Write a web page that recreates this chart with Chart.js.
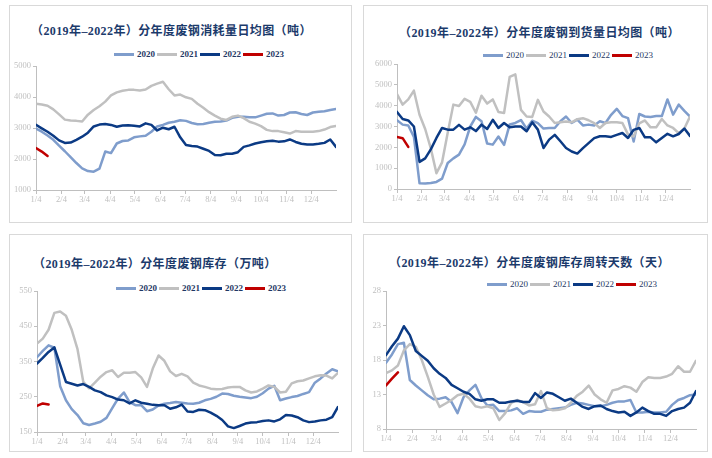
<!DOCTYPE html>
<html lang="zh-CN">
<head>
<meta charset="utf-8">
<title>废钢分年度图</title>
<script src="https://cdn.jsdelivr.net/npm/chart.js@4.4.1/dist/chart.umd.min.js"></script>
<style>
  html, body { margin: 0; padding: 0; background: #fff; }
  body { position: relative; width: 712px; height: 458px; overflow: hidden; }
  .panel { position: absolute; border: 1px solid #d9d9d9; box-sizing: border-box; }
  .chart { position: absolute; }
  .title {
    position: absolute; white-space: nowrap; line-height: 16px; letter-spacing: 0.4px;
    font: bold 12px "Liberation Serif", "Noto Sans CJK SC", serif; color: #1b3a6b;
  }
  .legend {
    position: absolute; display: flex; align-items: center; white-space: nowrap;
    height: 12px; font: 9px "Liberation Serif", serif; color: #1f3864;
  }
  .legend.bold { font-weight: bold; }
  .legend .swatch { display: inline-block; width: 20px; height: 3px; margin-right: 3px; }
  .legend .label { margin-right: 2px; }
</style>
</head>
<body>
<script>
// x axis: weekly points, labelled on the 4th of each month
const tickLabels = ["1/4", "2/4", "3/4", "4/4", "5/4", "6/4", "7/4", "8/4", "9/4", "10/4", "11/4", "12/4"]
const tickDays = [0, 31, 59, 90, 120, 151, 181, 212, 243, 273, 304, 334]
const years = ["2020", "2021", "2022", "2023"]

// 废钢消耗量日均 (吨)
const consume2020 = [2980, 2880, 2760, 2620, 2430, 2250, 2060, 1870, 1700, 1610, 1590, 1690, 2240, 2190, 2500, 2580, 2600, 2700, 2730, 2750, 2880, 3050, 3100, 3170, 3200, 3250, 3230, 3160, 3120, 3130, 3170, 3200, 3210, 3240, 3330, 3365, 3365, 3350, 3344, 3400, 3460, 3470, 3400, 3420, 3500, 3506, 3450, 3419, 3500, 3526, 3540, 3580, 3612]
const consume2021 = [3780, 3760, 3720, 3600, 3440, 3270, 3240, 3230, 3210, 3430, 3580, 3700, 3850, 4050, 4150, 4200, 4230, 4230, 4210, 4240, 4360, 4430, 4490, 4250, 4050, 4080, 3990, 3940, 3780, 3650, 3510, 3400, 3300, 3260, 3360, 3400, 3320, 3200, 3140, 3060, 2940, 2900, 2900, 2860, 2820, 2900, 2880, 2880, 2880, 2900, 2950, 3030, 3065]
const consume2022 = [3100, 2990, 2880, 2750, 2600, 2520, 2530, 2620, 2720, 2850, 3050, 3110, 3130, 3100, 3040, 3080, 3090, 3070, 3050, 3150, 3100, 2920, 3010, 2960, 3040, 2700, 2450, 2420, 2400, 2330, 2260, 2130, 2120, 2170, 2170, 2220, 2390, 2440, 2500, 2540, 2570, 2590, 2560, 2570, 2630, 2550, 2490, 2470, 2470, 2490, 2520, 2630, 2390]
const consume2023 = [2350, 2240, 2100]

// 废钢到货量日均 (吨)
const arrival2020 = [3300, 3090, 3050, 2500, 270, 260, 290, 340, 500, 1250, 1470, 1650, 2140, 3000, 3460, 3250, 2180, 2130, 2520, 2120, 3100, 3170, 3310, 2900, 3280, 3160, 2900, 2930, 2930, 3250, 3480, 3170, 3330, 3050, 3090, 3050, 3250, 3170, 3560, 3850, 3500, 3400, 2280, 3600, 3480, 3460, 3500, 3500, 4300, 3570, 4050, 3750, 3480]
const arrival2021 = [4560, 4050, 4300, 4720, 3560, 2880, 1950, 760, 1280, 2700, 4050, 3980, 4330, 4180, 3660, 4480, 4100, 4300, 3700, 3650, 5380, 5500, 3800, 3480, 3460, 4280, 3720, 3480, 3170, 3200, 3240, 3200, 3350, 3400, 3300, 3160, 2930, 3170, 3200, 3200, 3170, 2620, 2520, 3150, 3290, 2960, 2960, 3360, 3050, 2930, 2680, 2900, 3480]
const arrival2022 = [3700, 3360, 3290, 3000, 1300, 1470, 1900, 2450, 2930, 2850, 2850, 3080, 2850, 2960, 2780, 3090, 2880, 3320, 2930, 3170, 2960, 3000, 3000, 2770, 3200, 2850, 1970, 2370, 2600, 2290, 1970, 1800, 1700, 1960, 2200, 2440, 2530, 2530, 2500, 2600, 2690, 2450, 2840, 2930, 2480, 2480, 2240, 2450, 2650, 2530, 2640, 2900, 2550]
const arrival2023 = [2500, 2440, 2020]

// 废钢库存 (万吨)
const stock2020 = [362, 380, 396, 389, 280, 240, 215, 198, 175, 170, 174, 179, 190, 218, 245, 262, 235, 226, 226, 209, 214, 225, 230, 232, 235, 233, 231, 230, 233, 240, 244, 250, 259, 258, 253, 250, 248, 246, 250, 260, 273, 281, 240, 245, 249, 252, 258, 263, 290, 302, 316, 328, 322]
const stock2021 = [401, 415, 440, 488, 492, 480, 440, 385, 292, 274, 290, 307, 320, 325, 306, 318, 318, 320, 305, 278, 330, 367, 352, 322, 309, 315, 308, 290, 282, 278, 273, 271, 272, 276, 278, 278, 268, 262, 265, 273, 282, 278, 262, 264, 288, 294, 296, 302, 308, 311, 310, 302, 318]
const stock2022 = [344, 360, 377, 390, 341, 292, 287, 282, 286, 278, 268, 263, 254, 249, 242, 240, 231, 240, 233, 230, 227, 226, 226, 216, 220, 228, 208, 207, 213, 212, 205, 196, 184, 166, 161, 167, 174, 177, 178, 181, 183, 180, 186, 198, 197, 192, 183, 178, 180, 183, 185, 192, 221]
const stock2023 = [224, 231, 228]

// 废钢库存周转天数 (天)
const turnover2020 = [17.6, 18.8, 20.3, 20.5, 15.1, 14.3, 13.6, 12.9, 12.3, 12.4, 12.6, 11.9, 10.3, 12.6, 13.6, 14.4, 12.5, 11.4, 11.5, 10.6, 10.6, 10.7, 11.0, 10.2, 10.6, 10.5, 10.5, 10.8, 10.9, 11.0, 11.1, 11.5, 11.8, 11.7, 11.5, 11.3, 11.3, 11.5, 11.8, 12.0, 12.0, 12.2, 10.4, 10.4, 10.5, 10.4, 10.4, 10.5, 11.5, 12.2, 12.5, 12.9, 13.0]
const turnover2021 = [16.1, 16.5, 17.2, 19.4, 20.3, 19.9, 18.0, 15.6, 13.0, 11.2, 11.7, 12.2, 12.9, 13.1, 12.4, 11.3, 11.1, 11.3, 11.0, 9.3, 10.3, 11.8, 12.2, 11.9, 11.4, 11.6, 13.5, 11.0, 10.7, 10.8, 11.0, 11.8, 12.8, 13.4, 14.3, 13.0, 12.3, 11.8, 13.6, 13.8, 14.2, 14.0, 13.4, 14.8, 15.5, 15.4, 15.4, 15.6, 16.0, 17.1, 16.3, 16.3, 17.9]
const turnover2022 = [18.7, 20.0, 21.1, 22.9, 21.6, 19.3, 18.6, 17.9, 16.8, 16.0, 15.4, 14.4, 13.9, 13.4, 13.1, 12.3, 12.1, 12.3, 12.3, 11.8, 11.8, 12.0, 12.1, 11.9, 11.9, 13.2, 12.5, 13.3, 13.1, 12.6, 12.1, 12.4, 11.8, 11.2, 10.9, 11.3, 11.4, 10.9, 10.6, 10.4, 10.5, 9.9, 10.4, 11.1, 10.6, 10.2, 10.2, 9.9, 10.6, 10.9, 11.1, 11.8, 13.5]
const turnover2023 = [14.3, 15.3, 16.2]

const yearColors = ["#7f9dcc", "#c0c0c0", "#0b3a84", "#c00000"]
const axisGray = "#bfbfbf"

const panels = [
  {
    title: "（2019年–2022年）分年度废钢消耗量日均图（吨）",
    series: [consume2020, consume2021, consume2022, consume2023],
    yMin: 1000, yMax: 5000, yStep: 1000,
    box: [9, 5, 343, 218], area: [36, 66, 336, 190],
    titleAt: [31, 21], legendAt: [114, 48], boldLegend: true
  },
  {
    title: "（2019年–2022年）分年度废钢到货量日均图（吨）",
    series: [arrival2020, arrival2021, arrival2022, arrival2023],
    yMin: 0, yMax: 6000, yStep: 1000,
    box: [363, 5, 345, 218], area: [397, 64, 690, 189],
    titleAt: [399, 23], legendAt: [483, 49], boldLegend: false
  },
  {
    title: "（2019年–2022年）分年度废钢库存（万吨）",
    series: [stock2020, stock2021, stock2022, stock2023],
    yMin: 150, yMax: 550, yStep: 100,
    box: [9, 234, 343, 218], area: [37, 291, 338, 432],
    titleAt: [33, 254], legendAt: [116, 282], boldLegend: true
  },
  {
    title: "（2019年–2022年）分年度废钢库存周转天数（天）",
    series: [turnover2020, turnover2021, turnover2022, turnover2023],
    yMin: 8, yMax: 28, yStep: 5,
    box: [363, 234, 345, 218], area: [386, 291, 696, 429],
    titleAt: [389, 253], legendAt: [487, 278], boldLegend: false
  }
]

const tickFont = { family: "'Liberation Serif', serif", size: 8.5 }

function place(el, x, y) {
  el.style.left = x + "px"
  el.style.top = y + "px"
  document.body.appendChild(el)
}

function drawPanel(panel) {
  const [bx, by, bw, bh] = panel.box
  const [left, top, right, bottom] = panel.area

  const frame = document.createElement("div")
  frame.className = "panel"
  frame.style.width = bw + "px"
  frame.style.height = bh + "px"
  place(frame, bx, by)

  const title = document.createElement("div")
  title.className = "title"
  title.textContent = panel.title
  place(title, panel.titleAt[0], panel.titleAt[1])

  const legend = document.createElement("div")
  legend.className = panel.boldLegend ? "legend bold" : "legend"
  years.forEach((year, k) => {
    const swatch = document.createElement("span")
    swatch.className = "swatch"
    swatch.style.background = yearColors[k]
    const label = document.createElement("span")
    label.className = "label"
    label.textContent = year
    legend.append(swatch, label)
  })
  place(legend, panel.legendAt[0], panel.legendAt[1])

  const canvas = document.createElement("canvas")
  canvas.className = "chart"
  canvas.width = bw
  canvas.height = bh
  place(canvas, bx, by)

  new Chart(canvas, {
    type: "line",
    data: {
      datasets: years.map((year, k) => ({
        label: year,
        data: panel.series[k].map((value, week) => ({ x: week * 7, y: value })),
        borderColor: yearColors[k],
        borderWidth: 2.5,
        borderJoinStyle: "round",
        borderCapStyle: "round",
        pointRadius: 0,
        tension: 0,
        fill: false,
        order: years.length - k
      }))
    },
    options: {
      responsive: false,
      animation: false,
      events: [],
      layout: { padding: { left: 0, top: top - by, right: bx + bw - right, bottom: 0 } },
      plugins: { legend: { display: false }, tooltip: { enabled: false } },
      scales: {
        x: {
          type: "linear",
          min: 0,
          max: 364,
          afterBuildTicks: (scale) => {
            scale.ticks = tickDays.map((day) => ({ value: day }))
          },
          afterFit: (scale) => {
            scale.height = by + bh - bottom
          },
          ticks: {
            autoSkip: false,
            maxRotation: 0,
            padding: 1,
            color: axisGray,
            font: tickFont,
            callback: (value) => tickLabels[tickDays.indexOf(value)]
          },
          grid: { drawOnChartArea: false, tickLength: 4, color: axisGray },
          border: { color: axisGray }
        },
        y: {
          min: panel.yMin,
          max: panel.yMax,
          afterFit: (scale) => {
            scale.width = left - bx
          },
          ticks: {
            stepSize: panel.yStep,
            padding: 2,
            color: axisGray,
            font: tickFont,
            callback: (value) => String(value)
          },
          grid: { drawOnChartArea: false, tickLength: 3, color: axisGray },
          border: { color: axisGray }
        }
      }
    }
  })
}

panels.forEach(drawPanel)
</script>
</body>
</html>
